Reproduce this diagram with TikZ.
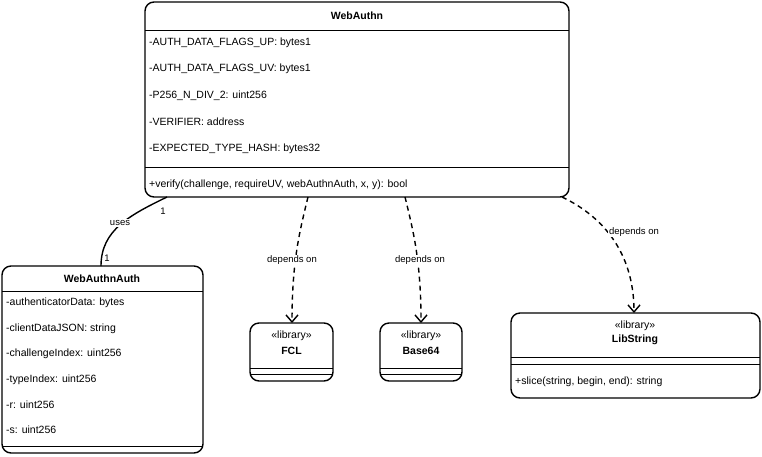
\documentclass[tikz,border=0pt]{standalone}
\usepackage{fontspec}
\setmainfont{Liberation Sans}
\usetikzlibrary{arrows.meta}
\begin{document}
\begin{tikzpicture}[x=1pt,y=-1pt,
  box/.style={draw,line width=1.4pt,rounded corners=9pt},
  sep/.style={line width=0.8pt},
  mem/.style={anchor=west,font=\fontsize{10.5}{12}\selectfont,inner sep=0pt},
  hd/.style={font=\bfseries\fontsize{10.5}{12}\selectfont,inner sep=0pt},
  lbl/.style={font=\fontsize{9.5}{11}\selectfont,fill=white,inner sep=1pt},
  dep/.style={line width=1.4pt,dash pattern=on 5pt off 4pt,-{Straight Barb[length=7pt,width=12pt,line width=1.4pt]}}]
\useasboundingbox (0,0) rectangle (762,456);
% WebAuthn
\draw[box] (145,2) rectangle (569,197);
\coordinate (wa) at (357,2);
\node[hd] (waT) at (357,16) {WebAuthn};
\draw[sep] (145,30) -- (569,30);
\node[mem] (a1) at (149,43) {-AUTH\_DATA\_FLAGS\_UP: bytes1};
\node[mem] (a2) at (149,69) {-AUTH\_DATA\_FLAGS\_UV: bytes1};
\node[mem] (a3) at (149,96) {-P256\_N\_DIV\_2: uint256};
\node[mem] (a4) at (149,122) {-VERIFIER: address};
\node[mem] (a5) at (149,149) {-EXPECTED\_TYPE\_HASH: bytes32};
\draw[sep] (145,167) -- (569,167);
\node[mem] (m1) at (149,185) {+verify(challenge, requireUV, webAuthnAuth, x, y): bool};
% WebAuthnAuth
\draw[box] (2,266) rectangle (203,453);
\node[hd] (wbT) at (102,279) {WebAuthnAuth};
\draw[sep] (2,291) -- (203,291);
\node[mem] (b1) at (6,303) {-authenticatorData: bytes};
\node[mem] (b2) at (6,329) {-clientDataJSON: string};
\node[mem] (b3) at (6,354) {-challengeIndex: uint256};
\node[mem] (b4) at (6,380) {-typeIndex: uint256};
\node[mem] (b5) at (6,405) {-r: uint256};
\node[mem] (b6) at (6,430) {-s: uint256};
\draw[sep] (2,446) -- (203,446);
% FCL
\draw[box] (250,323) rectangle (333,381);
\node[inner sep=0pt,font=\fontsize{10.5}{12}\selectfont] (f1) at (291.5,336) {\textless\textless library\textgreater\textgreater};
\node[inner sep=0pt,font=\bfseries\fontsize{10.5}{12}\selectfont] (f2) at (291.5,351) {FCL};
\draw[sep] (250,368) -- (333,368) (250,374) -- (333,374);
% Base64
\draw[box] (380,323) rectangle (462,381);
\node[inner sep=0pt,font=\fontsize{10.5}{12}\selectfont] (g1) at (421,336) {\textless\textless library\textgreater\textgreater};
\node[inner sep=0pt,font=\bfseries\fontsize{10.5}{12}\selectfont] (g2) at (421,351) {Base64};
\draw[sep] (380,368) -- (462,368) (380,374) -- (462,374);
% LibString
\draw[box] (511,313) rectangle (760,398);
\node[inner sep=0pt,font=\fontsize{10.5}{12}\selectfont] (l1) at (635,326) {\textless\textless library\textgreater\textgreater};
\node[inner sep=0pt,font=\bfseries\fontsize{10.5}{12}\selectfont] (l2) at (635,340) {LibString};
\draw[sep] (511,357) -- (760,357) (511,364) -- (760,364);
\node[mem] (l3) at (515,382) {+slice(string, begin, end): string};
% coordinates
\coordinate (u0) at (167,197); \coordinate (u1) at (101,266);
\coordinate (f0) at (308,197); \coordinate (fe) at (292,323);
\coordinate (g0) at (405,197); \coordinate (ge) at (421,323);
\coordinate (s0) at (562,197); \coordinate (se) at (634,313);
% connectors
\draw[line width=1.4pt] (u0) .. controls (130,215) and (101,230) .. (u1);
\node[lbl] (ul) at (120,223) {uses};
\node[font=\fontsize{9.5}{11}\selectfont,inner sep=0pt] (n1) at (163,211) {1};
\node[font=\fontsize{9.5}{11}\selectfont,inner sep=0pt] (n2) at (107,258) {1};
\draw[dep] (f0) .. controls (300,230) and (292,260) .. (fe);
\node[lbl] (fl) at (292,260) {depends on};
\draw[dep] (g0) .. controls (413,230) and (421,260) .. (ge);
\node[lbl] (gl) at (420,260) {depends on};
\draw[dep] (s0) .. controls (600,215) and (634,250) .. (se);
\node[lbl] (sl) at (634,232) {depends on};
\end{tikzpicture}
\end{document}
